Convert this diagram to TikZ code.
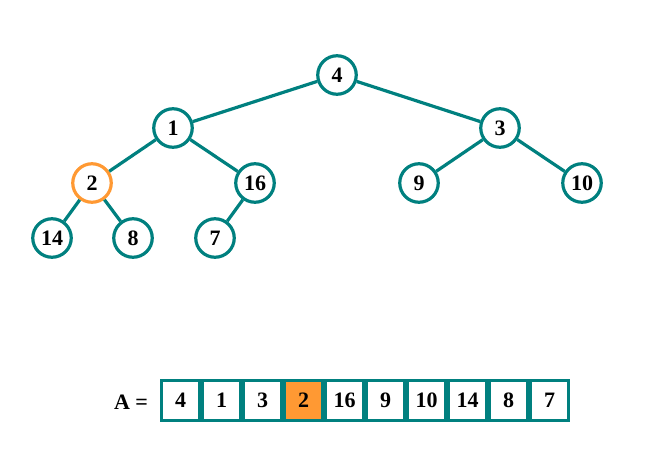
\documentclass[tikz,border=0pt]{standalone}
\usepackage{fontspec}
\setmainfont{Liberation Serif}
\definecolor{teal1}{HTML}{00807F}
\definecolor{orng}{HTML}{FF9933}
\begin{document}
\begin{tikzpicture}[x=1pt,y=-1pt,
  hn/.style={circle,draw=teal1,line width=3.2pt,fill=white,minimum size=38.5pt,inner sep=0pt,font=\fontsize{22}{22}\selectfont\bfseries},
  hl/.style={hn,draw=orng},
  ed/.style={draw=teal1,line width=3.2pt},
  cell/.style={rectangle,draw=teal1,line width=3pt,fill=white,minimum width=38pt,minimum height=40pt,inner sep=0pt,font=\fontsize{22}{22}\selectfont\bfseries},
  cellh/.style={cell,fill=orng}]
\useasboundingbox (0,0) rectangle (653,460);
\node[hn] (n4) at (337,75) {4};
\node[hn] (n1) at (173,128) {1};
\node[hn] (n3) at (500,128) {3};
\node[hl] (n2) at (92,183) {2};
\node[hn] (n16) at (255,183) {16};
\node[hn] (n9) at (419,183) {9};
\node[hn] (n10) at (582,183) {10};
\node[hn] (n14) at (52,238) {14};
\node[hn] (n8) at (133,238) {8};
\node[hn] (n7) at (215,238) {7};
\draw[ed] (n4) -- (n1);
\draw[ed] (n4) -- (n3);
\draw[ed] (n1) -- (n2);
\draw[ed] (n1) -- (n16);
\draw[ed] (n3) -- (n9);
\draw[ed] (n3) -- (n10);
\draw[ed] (n2) -- (n14);
\draw[ed] (n2) -- (n8);
\draw[ed] (n16) -- (n7);
\node[font=\fontsize{22}{22}\selectfont\bfseries] (lab) at (131,402) {A =};
\node[cell] (c1) at (180.5,400.5) {4};
\node[cell] (c2) at (221.5,400.5) {1};
\node[cell] (c3) at (262.5,400.5) {3};
\node[cellh] (c4) at (303.5,400.5) {2};
\node[cell] (c5) at (344.5,400.5) {16};
\node[cell] (c6) at (385.5,400.5) {9};
\node[cell] (c7) at (426.5,400.5) {10};
\node[cell] (c8) at (467.5,400.5) {14};
\node[cell] (c9) at (508.5,400.5) {8};
\node[cell] (c10) at (549.5,400.5) {7};
\end{tikzpicture}
\end{document}
